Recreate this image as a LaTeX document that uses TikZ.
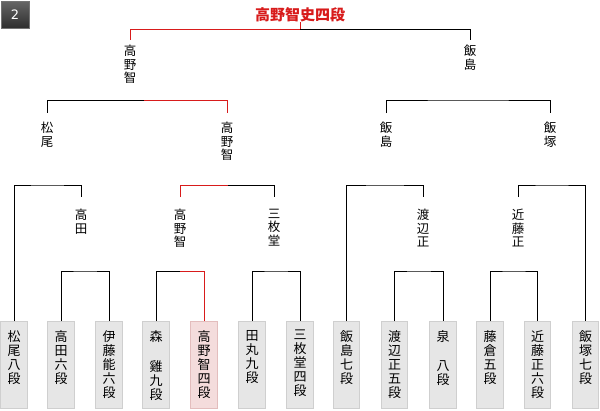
\documentclass[tikz,border=0pt]{standalone}
\usepackage{fontspec}
\setmainfont{Noto Sans CJK JP}
\newfontfamily\badgefont{DejaVu Sans}
\definecolor{winred}{HTML}{D81B1B}
\definecolor{leaffill}{HTML}{E6E6E6}
\definecolor{leafborder}{HTML}{CFCFCF}
\definecolor{winfill}{HTML}{F4DCDC}
\definecolor{winborder}{HTML}{E3BDBD}
\begin{document}
\begin{tikzpicture}[x=1pt,y=-1pt,
  conn/.style={line width=1pt, draw=black},
  win/.style={line width=1pt, draw=winred},
  vtext/.style={align=center, font=\fontsize{12.5}{13.5}\selectfont, anchor=north, inner xsep=0pt},
  lvtwo/.style={vtext, inner ysep=5pt},
  lvthree/.style={vtext, inner ysep=9pt},
  lvfour/.style={vtext, inner ysep=12pt},
  leaftxt/.style={align=center, font=\fontsize{13}{14}\selectfont, anchor=north, inner sep=0pt, yshift=-9pt},
  leaf/.style={draw=leafborder, fill=leaffill, line width=1pt, minimum width=26.4pt, minimum height=87pt, inner sep=0pt, anchor=north, label={[leaftxt]north:{#1}}},
  winleaf/.style={leaf=#1, draw=winborder, fill=winfill},
  badge/.style={draw=black!55, top color=black!60, bottom color=black!82, line width=1pt, minimum width=28pt, minimum height=27pt, inner sep=0pt, anchor=north west, text=white, font=\badgefont\fontsize{13}{13}\selectfont},
  titlestyle/.style={text=winred, font=\fontsize{15}{15}\selectfont\bfseries, anchor=south, inner sep=0pt}
]
\fill[white] (0,0) rectangle (600,410);
\useasboundingbox (0,0) rectangle (600,410);

% badge and title
\node[badge] (B) at (0.5,0.5) {2};
\node[titlestyle] (T) at (300,22) {高野智史四段};

% level 2 labels
\node[lvtwo] (L2a) at (130,40) {高\\野\\智};
\node[lvtwo] (L2b) at (470,40) {飯\\島};

% level 3 labels
\node[lvthree] (L3a) at (47,113) {松\\尾};
\node[lvthree] (L3b) at (227,113) {高\\野\\智};
\node[lvthree] (L3c) at (386,113) {飯\\島};
\node[lvthree] (L3d) at (550,113) {飯\\塚};

% level 4 labels
\node[lvfour] (L4a) at (81,197) {高\\田};
\node[lvfour] (L4b) at (180,197) {高\\野\\智};
\node[lvfour] (L4c) at (274,197) {三\\枚\\堂};
\node[lvfour] (L4d) at (423,197) {渡\\辺\\正};
\node[lvfour] (L4e) at (518,197) {近\\藤\\正};

% leaves
\node[leaf={松\\尾\\八\\段}] (l1) at (14,321) {};
\node[leaf={高\\田\\六\\段}] (l2) at (61,321) {};
\node[leaf={伊\\藤\\能\\六\\段}] (l3) at (109,321) {};
\node[leaf={森\\\strut\\雞\\九\\段}] (l4) at (156,321) {};
\node[winleaf={高\\野\\智\\四\\段}] (l5) at (204,321) {};
\node[leaf={田\\丸\\九\\段}] (l6) at (252,321) {};
\node[leaf={三\\枚\\堂\\四\\段}] (l7) at (300,321) {};
\node[leaf={飯\\島\\七\\段}] (l8) at (346.5,321) {};
\node[leaf={渡\\辺\\正\\五\\段}] (l9) at (394.5,321) {};
\node[leaf={泉\\\strut\\八\\段}] (l10) at (443,321) {};
\node[leaf={藤\\倉\\五\\段}] (l11) at (490,321) {};
\node[leaf={近\\藤\\正\\六\\段}] (l12) at (537.5,321) {};
\node[leaf={飯\\塚\\七\\段}] (l13) at (585.5,321) {};

% bracket junction points
\coordinate (c2) at (300,29);
\coordinate (c3a) at (144,100);
\coordinate (c3b) at (468,100);
\coordinate (c4a) at (47,185);
\coordinate (c4b) at (228,185);
\coordinate (c4c) at (385,185);
\coordinate (c4d) at (552,185);
\coordinate (c5a) at (85,271);
\coordinate (c5b) at (180,271);
\coordinate (c5c) at (276,271);
\coordinate (c5d) at (419,271);
\coordinate (c5e) at (514,271);

% level 2 bracket
\draw[win] (T.south) -- (c2) -| (L2a.north);
\draw[conn] (c2) -| (L2b.north);

% level 3 brackets
\draw[conn] (c3a) -| (L3a.north);
\draw[win] (c3a) -| (L3b.north);
\draw[conn] (L3c.north) |- (c3b) -| (L3d.north);

% level 4 brackets
\draw[conn] (l1.north) |- (c4a) -| (L4a.north);
\draw[win] (L4b.north) |- (c4b);
\draw[conn] (c4b) -| (L4c.north);
\draw[conn] (l8.north) |- (c4c) -| (L4d.north);
\draw[conn] (L4e.north) |- (c4d) -| (l13.north);

% level 5 brackets
\draw[conn] (l2.north) |- (c5a) -| (l3.north);
\draw[conn] (l4.north) |- (c5b);
\draw[win] (c5b) -| (l5.north);
\draw[conn] (l6.north) |- (c5c) -| (l7.north);
\draw[conn] (l9.north) |- (c5d) -| (l10.north);
\draw[conn] (l11.north) |- (c5e) -| (l12.north);
\end{tikzpicture}
\end{document}
